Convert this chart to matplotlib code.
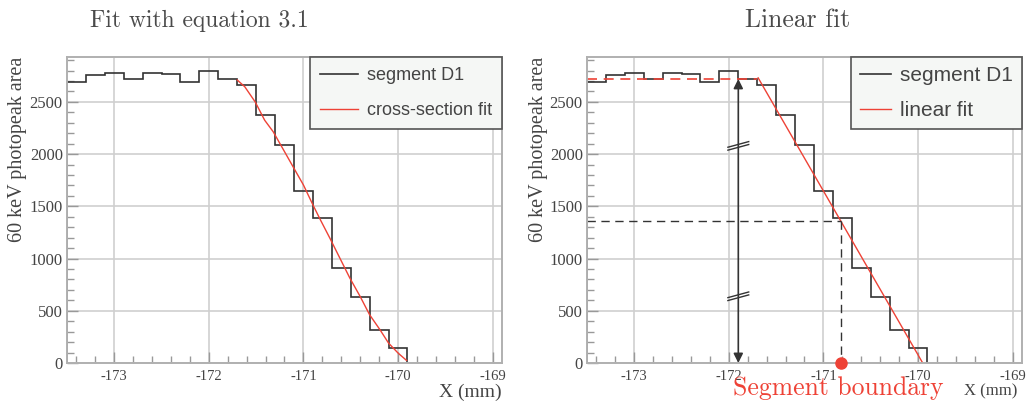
import matplotlib.pyplot as plt
import numpy as np

plt.rcParams.update({
    'font.family': 'serif',
    'font.serif': ['Liberation Serif', 'DejaVu Serif'],
    'axes.unicode_minus': False,
    'text.color': '#444444',
    'xtick.color': '#999999',
    'ytick.color': '#999999',
    'xtick.labelcolor': '#444444',
    'ytick.labelcolor': '#444444',
    'xtick.direction': 'in',
    'ytick.direction': 'in',
})

# histogram of segment D1 (0.2 mm bins starting at -173.5 mm)
bin_lo = -173.5
bin_w = 0.2
counts = [2690, 2760, 2775, 2715, 2780, 2765, 2690, 2795, 2715,
          2660, 2370, 2090, 1645, 1390, 910, 630, 315, 140]

# cross-section fit curve
fit_x = [-171.70, -171.62, -171.51, -171.41, -171.32, -171.21, -171.11, -171.00,
         -170.90, -170.82, -170.72, -170.51, -170.40, -170.30, -170.19, -170.10,
         -170.00, -169.91]
fit_y = [2710, 2645, 2500, 2325, 2215, 2040, 1880, 1705,
         1515, 1370, 1195, 815, 637, 462, 318, 191,
         96, 25]

# linear fit (right panel)
lin_x = [-171.69, -169.95]
lin_y = [2730, 0]
plateau = 2720
plateau_end = -171.7
arrow_x = -171.9
boundary_x = -170.81
breaks_y = [2079, 639]

xlim = (-173.5, -168.9)
ylim = (0, 2930)
xticks = [-173, -172, -171, -170, -169]
yticks = [0, 500, 1000, 1500, 2000, 2500]

RED = '#ee4236'
HIST = '#333333'

edges = bin_lo + bin_w * np.arange(len(counts) + 1)

fig = plt.figure(figsize=(10.27, 4.05), dpi=100)
ax1 = fig.add_axes([67 / 1027, 1 - 363 / 405, 435 / 1027, 306 / 405])
ax2 = fig.add_axes([587 / 1027, 1 - 363 / 405, 435 / 1027, 306 / 405])


def style(ax):
    ax.set_xlim(*xlim)
    ax.set_ylim(*ylim)
    ax.set_xticks(xticks)
    ax.set_yticks(yticks)
    ax.set_xticks(np.arange(-173.4, -168.9, 0.2), minor=True)
    ax.set_yticks(np.arange(0, 2901, 100), minor=True)
    ax.tick_params(axis='x', which='major', length=8, width=1, labelsize=10.5, pad=5)
    ax.tick_params(axis='y', which='major', length=8, width=1, labelsize=12, pad=3)
    ax.tick_params(which='minor', length=5, width=1)
    ax.grid(True, which='major', color='#cfcfcf', linewidth=1.2)
    ax.set_axisbelow(True)
    for s in ax.spines.values():
        s.set_color('#b0b0b0')
        s.set_linewidth(1.4)


# ---- left panel ----
style(ax1)
ax1.stairs(counts, edges, baseline=0, color=HIST, linewidth=1.2, label='segment D1')
ax1.plot(fit_x, fit_y, color=RED, linewidth=1.0, label='cross-section fit')
leg = ax1.legend(loc='upper right', bbox_to_anchor=(1, 1), borderaxespad=0,
                 prop={'family': 'Liberation Sans', 'size': 13},
                 fancybox=False, framealpha=1, facecolor='#f5f7f5', edgecolor='#555555',
                 handlelength=2.1, handletextpad=0.5, labelspacing=1.0, borderpad=0.55)
leg.get_frame().set_linewidth(1.2)

fig.text(90 / 1027, 1 - 27 / 405, 'Fit with equation 3.1', family='cmr10',
         fontsize=17, color='#4a4a4a', ha='left', va='baseline')
fig.text(18 / 1027, 1 - 57 / 405, '60 keV photopeak area', rotation=90,
         fontsize=14.5, ha='center', va='top')
fig.text(502 / 1027, 1 - 397 / 405, 'X (mm)', fontsize=14, ha='right', va='baseline')

# ---- right panel ----
style(ax2)
ax2.stairs(counts, edges, baseline=0, color=HIST, linewidth=1.2, label='segment D1')
ax2.plot(lin_x, lin_y, color=RED, linewidth=1.0, label='linear fit')
ax2.plot([xlim[0], plateau_end], [plateau, plateau], color=RED, linewidth=1.2,
         dashes=(6, 4))
half = plateau / 2
ax2.plot([xlim[0], boundary_x], [half, half], color='#333333', linewidth=1.0, dashes=(6, 4))
ax2.plot([boundary_x, boundary_x], [half, 0], color='#333333', linewidth=1.0, dashes=(6, 4))
ax2.plot([boundary_x], [0], 'o', color=RED, markersize=8, clip_on=False, zorder=5)
ax2.annotate('', xy=(arrow_x, 0), xytext=(arrow_x, plateau),
             arrowprops=dict(arrowstyle='<|-|>', color='#333333', lw=1.2,
                             mutation_scale=14, shrinkA=0, shrinkB=0))
for yb in breaks_y:
    for off in (-14, 14):
        ax2.plot([arrow_x - 0.11, arrow_x + 0.11], [yb + off - 27, yb + off + 27],
                 color='#333333', linewidth=1.0)

leg2 = ax2.legend(loc='upper right', bbox_to_anchor=(1, 1), borderaxespad=0,
                  prop={'family': 'Liberation Sans', 'size': 15},
                  fancybox=False, framealpha=1, facecolor='#f5f7f5', edgecolor='#555555',
                  handlelength=1.5, handletextpad=0.4, labelspacing=0.75, borderpad=0.45)
leg2.get_frame().set_linewidth(1.2)

fig.text(745 / 1027, 1 - 27 / 405, 'Linear fit', family='cmr10',
         fontsize=18.5, color='#4a4a4a', ha='left', va='baseline')
fig.text(538 / 1027, 1 - 57 / 405, '60 keV photopeak area', rotation=90,
         fontsize=14.5, ha='center', va='top')
fig.text(733 / 1027, 1 - 395 / 405, 'Segment boundary', family='cmr10',
         fontsize=18.5, color=RED, ha='left', va='baseline')
fig.text(1017 / 1027, 1 - 395 / 405, 'X (mm)', fontsize=12, ha='right', va='baseline')

fig.savefig('out.png', dpi=100)
